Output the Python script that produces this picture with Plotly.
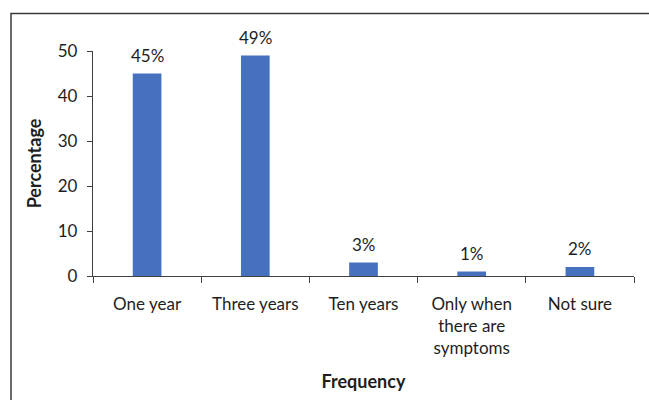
import plotly.graph_objects as go

# Frequency of check-ups, percentage of respondents
categories = ["One year", "Three years", "Ten years",
              "Only when<br>there are<br>symptoms", "Not sure"]
percentages = [45, 49, 3, 1, 2]
y_ticks = [0, 10, 20, 30, 40, 50]

FONT = "Lato, Carlito, Calibri, sans-serif"
TEXT = "#1e1e1e"
AXIS = "#404040"
BAR = "#4571BE"

W, H = 649, 400
L, R, T, B = 93, 15, 51, 121
pw, ph = W - L - R, H - T - B

fig = go.Figure(go.Bar(
    x=categories,
    y=percentages,
    marker=dict(color=BAR, line=dict(width=0)),
    hoverinfo="skip",
))

# value labels above each bar
for cat, val in zip(categories, percentages):
    fig.add_annotation(
        x=cat, y=val, text=f"{val}%",
        showarrow=False, yanchor="bottom", yshift=6,
        font=dict(family=FONT, size=17, color=TEXT),
    )

fig.update_layout(
    width=W, height=H,
    margin=dict(l=L, r=R, t=T, b=B),
    paper_bgcolor="white",
    plot_bgcolor="white",
    bargap=0.735,
    showlegend=False,
    font=dict(family=FONT, size=17, color=TEXT),
)

fig.update_xaxes(
    type="category",
    showline=True, linecolor=AXIS, linewidth=1.3,
    ticks="outside", tickson="boundaries", ticklen=6,
    tickcolor=AXIS, tickwidth=1.3,
    ticklabelstandoff=12,
    showgrid=False, zeroline=False,
    tickfont=dict(family=FONT, size=17, color=TEXT),
    title=dict(text="<b>Frequency</b>", standoff=18,
               font=dict(family=FONT, size=18, color=TEXT)),
)

fig.update_yaxes(
    range=[0, 50],
    tickvals=y_ticks,
    showline=True, linecolor=AXIS, linewidth=1.3,
    ticks="outside", ticklen=5, tickcolor=AXIS, tickwidth=1.3,
    ticklabelstandoff=6,
    showgrid=False, zeroline=False,
    tickfont=dict(family=FONT, size=17, color=TEXT),
    title=dict(text="<b>Percentage</b>", standoff=11,
               font=dict(family=FONT, size=18, color=TEXT)),
)

# outer frame around the chart
fig.add_shape(
    type="rect", xref="paper", yref="paper",
    x0=(11 - L) / pw, x1=(W + 20 - L) / pw,
    y0=(H - B - (H + 20)) / ph, y1=(H - B - 13) / ph,
    line=dict(color="#3a3a3a", width=1.5),
    fillcolor="rgba(0,0,0,0)",
    layer="below",
)

fig.write_html("out.html")
